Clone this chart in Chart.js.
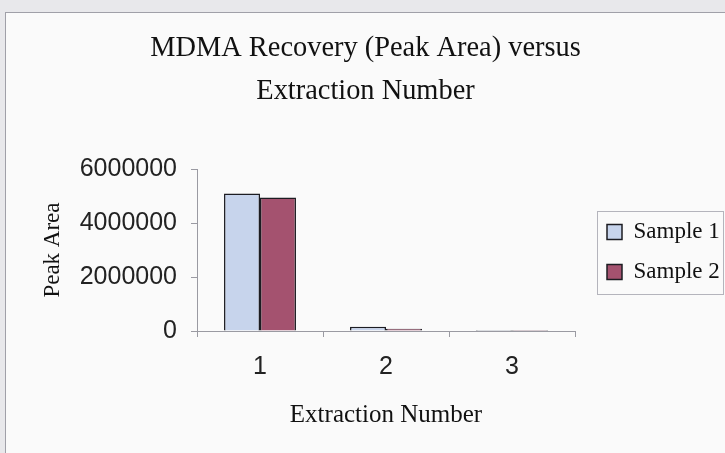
<!DOCTYPE html>
<html>
<head>
<meta charset="utf-8">
<script src="https://cdn.jsdelivr.net/npm/chart.js@4"></script>
<style>
  html, body { margin: 0; padding: 0; }
  body { width: 725px; height: 453px; background: #e8e8eb; overflow: hidden; position: relative; }
  #frame { position: absolute; left: 5px; top: 12px; width: 720px; height: 441px; background: #fafafa; border-left: 1px solid #a0a0a8; border-top: 1px solid #a0a0a8; box-sizing: border-box; }
  #chart-mdma { display: block; }
</style>
</head>
<body>
<div id="frame"><canvas id="chart-mdma" width="719" height="440"></canvas></div>
<script>
// datos
const extracciones = ['1', '2', '3'];
const muestra1 = [5090000, 160000, 4000];
const muestra2 = [4950000, 85000, 2000];
const ticksY = [0, 2000000, 4000000, 6000000];

const serif = '"Liberation Serif", "Times New Roman", serif';
const sans = '"Liberation Sans", Arial, sans-serif';

// leyenda: ancho fijo, corrida a la derecha y con caja
const cajaLeyenda = {
  id: 'cajaLeyenda',
  beforeInit(chart) {
    const fitOrig = chart.legend.fit;
    chart.legend.fit = function () {
      fitOrig.call(this);
      if (!this.isHorizontal()) this.width = 150;
    };
  },
  afterUpdate(chart) {
    const lg = chart.legend;
    lg.left += 15;
    lg.top += 4;
    (lg.legendHitBoxes || []).forEach(h => { h.left += 15; h.top += 4; });
  },
  afterDraw(chart) {
    const boxes = chart.legend.legendHitBoxes;
    if (!boxes || !boxes.length) return;
    let l = Infinity, t = Infinity, r = -Infinity, b = -Infinity;
    boxes.forEach(h => {
      l = Math.min(l, h.left); t = Math.min(t, h.top);
      r = Math.max(r, h.left + h.width); b = Math.max(b, h.top + h.height);
    });
    const ctx = chart.ctx;
    ctx.save();
    ctx.strokeStyle = '#b4b4bc';
    ctx.lineWidth = 1;
    ctx.strokeRect(Math.round(l - 10) + 0.5, Math.round(t - 12) + 0.5, Math.round(r - l + 13), Math.round(b - t + 20));
    ctx.restore();
  }
};

const ctx = document.getElementById('chart-mdma').getContext('2d');

let grafico = new Chart(ctx, {
  type: 'bar',
  data: {
    labels: extracciones,
    datasets: [{
      label: 'Sample 1',
      data: muestra1,
      backgroundColor: '#c7d4ec',
      borderColor: '#1c1c22',
      borderWidth: 1.5
    }, {
      label: 'Sample 2',
      data: muestra2,
      backgroundColor: '#a4526f',
      borderColor: '#1c1c22',
      borderWidth: 1.5
    }]
  },
  options: {
    responsive: false,
    animation: false,
    datasets: {
      bar: { barPercentage: 1, categoryPercentage: 0.571 }
    },
    layout: { padding: { left: 0, right: 0, top: 0, bottom: 0 } },
    plugins: {
      title: {
        display: true,
        text: ['MDMA Recovery (Peak Area) versus', 'Extraction Number'],
        color: '#111',
        font: { family: serif, size: 28.4, weight: 'normal', lineHeight: 1.48 },
        padding: { top: 15, bottom: 57 }
      },
      legend: {
        position: 'right',
        fullSize: false,
        labels: {
          color: '#111',
          font: { family: serif, size: 23 },
          boxWidth: 15,
          boxHeight: 15,
          padding: 17
        }
      },
      tooltip: { enabled: false }
    },
    scales: {
      x: {
        afterFit: (s) => { s.height = 122; },
        grid: { offset: true, drawOnChartArea: false, drawTicks: true, tickLength: 6, color: '#9a9aa2' },
        border: { color: '#9a9aa2' },
        ticks: { color: '#222', font: { family: sans, size: 25 }, padding: 15 },
        title: {
          display: true,
          text: 'Extraction Number',
          color: '#111',
          font: { family: serif, size: 25 },
          padding: { top: 0, bottom: 23 }
        }
      },
      y: {
        min: 0,
        max: 6000000,
        afterFit: (s) => { s.width = 191; },
        afterBuildTicks: (s) => { s.ticks = ticksY.map(v => ({ value: v })); },
        grid: { drawOnChartArea: false, drawTicks: true, tickLength: 6, color: '#9a9aa2' },
        border: { color: '#9a9aa2' },
        ticks: { color: '#222', font: { family: sans, size: 25 }, padding: 14, callback: (v) => String(v) },
        title: {
          display: true,
          text: 'Peak Area',
          color: '#111',
          font: { family: serif, size: 23 },
          padding: { top: 33, bottom: 0 }
        }
      }
    }
  },
  plugins: [cajaLeyenda]
});
</script>
</body>
</html>
